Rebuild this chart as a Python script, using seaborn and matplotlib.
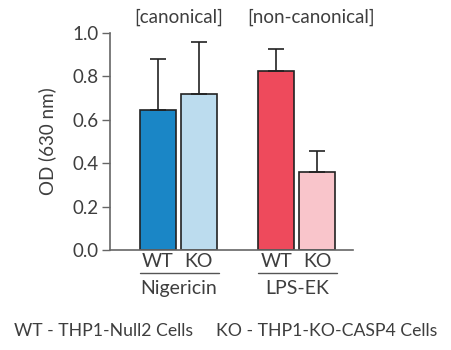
import seaborn as sns
import numpy as np
import pandas as pd
import matplotlib.pyplot as plt
import matplotlib.transforms as mtransforms

# OD values
groups = ["Nigericin", "Nigericin", "LPS-EK", "LPS-EK"]
cells = ["WT", "KO", "WT", "KO"]
od = [0.645, 0.72, 0.825, 0.36]
od_err = [0.235, 0.24, 0.10, 0.095]
pathway = ["[canonical]", "[non-canonical]"]
colors = ["#1a86c6", "#bcdcee", "#ee4a5c", "#f9c5cb"]

sns.set_style("white")
plt.rcParams['font.family'] = ['Lato', 'DejaVu Sans']
txt = "#3e3e3e"

# bar slots: two pairs with a gap between groups
xpos = np.array([0, 1, 2.89, 3.89])
df = pd.DataFrame({"x": xpos, "od": od, "cell": cells, "group": groups})

fig = plt.figure(figsize=(4.52, 3.5), dpi=100)
ax = fig.add_axes([0.243, 0.286, 0.538, 0.62])

sns.barplot(data=df, x="x", y="od", hue="x", palette=colors, native_scale=True,
            width=0.88, saturation=1, edgecolor="#222222", linewidth=1.2,
            legend=False, ax=ax)
ax.errorbar(xpos, od, yerr=[np.zeros(4), od_err], fmt="none", ecolor="#222222",
            elinewidth=1.2, capsize=5.5, capthick=1.2, zorder=1)

ax.set_xlim(-1.17, 4.76)
ax.set_ylim(0, 1.0)
ax.set_yticks([0, 0.2, 0.4, 0.6, 0.8, 1.0])
ax.set_yticklabels(["0.0", "0.2", "0.4", "0.6", "0.8", "1.0"])
ax.set_xticks([])
ax.set_xlabel("")
ax.set_ylabel("OD (630 nm)", fontsize=13.5, color=txt)
ax.yaxis.set_label_coords(-0.222, 0.5)
ax.tick_params(axis="y", left=True, length=6, width=1, color="#666666",
               labelsize=13.5, labelcolor=txt, pad=2)
sns.despine(ax=ax)
for s in ["left", "bottom"]:
    ax.spines[s].set_color("#666666")
    ax.spines[s].set_linewidth(1.2)

tr = mtransforms.blended_transform_factory(ax.transData, ax.transAxes)
for x, c in zip(xpos, cells):
    ax.text(x, -0.055, c, transform=tr, ha="center", va="center",
            fontsize=14, color=txt, clip_on=False)

header_shift = [0, 0.34]
for i, name in enumerate(["Nigericin", "LPS-EK"]):
    left, right = xpos[2 * i] - 0.44, xpos[2 * i + 1] + 0.48
    ax.plot([left, right], [-0.106, -0.106], transform=tr, color="#555555",
            lw=1, clip_on=False)
    mid = (xpos[2 * i] + xpos[2 * i + 1]) / 2
    ax.text(mid, -0.178, name, transform=tr, ha="center", va="center",
            fontsize=14, color=txt, clip_on=False)
    ax.text(mid + header_shift[i], 1.074, pathway[i], transform=tr, ha="center",
            va="center", fontsize=13.5, color=txt, clip_on=False)

fig.text(0.03, 0.054, "WT - THP1-Null2 Cells", ha="left", va="center",
         fontsize=12.7, color=txt)
fig.text(0.478, 0.054, "KO - THP1-KO-CASP4 Cells", ha="left", va="center",
         fontsize=12.7, color=txt)

fig.savefig("out.png", dpi=100)
